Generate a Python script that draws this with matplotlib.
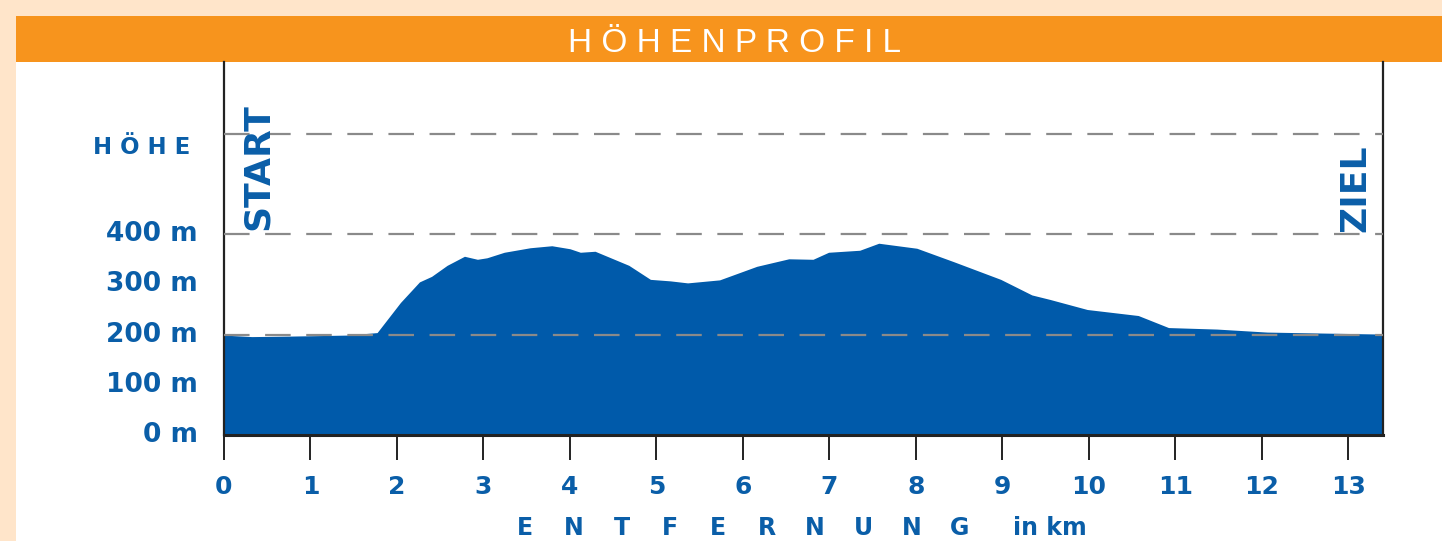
import matplotlib.pyplot as plt
from matplotlib.patches import Rectangle
from matplotlib.transforms import ScaledTranslation

# elevation profile
km = [0.0, 0.32, 0.76, 1.42, 1.77, 2.04, 2.26, 2.40, 2.58, 2.78, 2.93, 3.04, 3.24,
      3.54, 3.79, 4.00, 4.12, 4.29, 4.68, 4.93, 5.16, 5.36, 5.73, 6.16, 6.53, 6.81,
      6.99, 7.35, 7.57, 8.01, 8.44, 8.98, 9.34, 9.55, 9.98, 10.57, 10.92, 11.48,
      12.06, 13.40]
hoehe = [199, 196, 197, 199, 204, 264, 305, 316, 338, 356, 350, 353, 364,
         373, 377, 371, 364, 366, 338, 310, 307, 303, 309, 336, 351, 350,
         364, 368, 382, 372, 345, 310, 279, 270, 250, 238, 214, 211,
         205, 201]

xticks = list(range(0, 14))
yticks = [0, 100, 200, 300, 400]
ylabels = ["0 m", "100 m", "200 m", "300 m", "400 m"]
grid_levels = [200, 400, 600]

W, H = 1442, 541
blue = "#005AAA"
txtblue = "#0A5EA8"
orange = "#F7941D"
peach = "#FFE5CA"

fig = plt.figure(figsize=(W / 100, H / 100), dpi=100)
fig.patch.set_facecolor(peach)

# white panel + orange banner
fig.patches.append(Rectangle((16 / W, 0), 1 - 16 / W, 1 - 16 / H, transform=fig.transFigure,
                             facecolor="white", edgecolor="none", zorder=0))
fig.patches.append(Rectangle((16 / W, 1 - 62 / H), 1 - 16 / W, 46 / H, transform=fig.transFigure,
                             facecolor=orange, edgecolor="none", zorder=1))
fig.text(735 / W, 1 - 44 / H, " ".join("HÖHENPROFIL"), color="white", fontsize=24,
         family="Liberation Sans", ha="center", va="center")

ax = fig.add_axes([224 / W, 1 - 435 / H, (1383 - 224) / W, (435 - 62) / H])
ax.set_zorder(5)
ax.set_facecolor("none")
ax.fill_between(km, hoehe, 0, color=blue, lw=0, zorder=2)
for g in grid_levels:
    ax.axhline(g, color="#8a8a8a", lw=1.6, linestyle=(0, (11.5, 7)), zorder=3)

ax.set_xlim(0, 13.4)
ax.set_ylim(0, 743)

for s in ["left", "right"]:
    ax.spines[s].set_color("#222222")
    ax.spines[s].set_linewidth(1.6)
ax.spines["bottom"].set_color("#222222")
ax.spines["bottom"].set_linewidth(2.2)
ax.spines["top"].set_visible(False)

ax.set_xticks(xticks)
ax.set_xticklabels([str(t) for t in xticks], color=txtblue, fontsize=18, fontweight="bold")
ax.tick_params(axis="x", length=18, width=1.4, color="#222222", pad=11)
ax.set_yticks(yticks)
ax.set_yticklabels(ylabels, color=txtblue, fontsize=19, fontweight="bold")
ax.tick_params(axis="y", length=0, pad=19)
shift = ScaledTranslation(0, 3 / 100, fig.dpi_scale_trans)
for lab in ax.get_yticklabels():
    lab.set_transform(lab.get_transform() + shift)

ax.text(-0.0707, 0.772, "H Ö H E", transform=ax.transAxes, color=txtblue, fontsize=16.5,
        fontweight="bold", ha="center", va="center")

ax.text(0.39, 409, "START", rotation=90, color=txtblue, fontsize=26, fontweight="bold",
        ha="center", va="bottom", zorder=4)
ax.text(13.08, 405, "ZIEL", rotation=90, color=txtblue, fontsize=26, fontweight="bold",
        ha="center", va="bottom", zorder=4)

# spaced axis title under the ticks
for i, ch in enumerate("ENTFERNUNG"):
    fig.text((525 + i * 48.3) / W, 1 - 528 / H, ch, color=txtblue, fontsize=17,
             fontweight="bold", ha="center", va="center")
fig.text(1050 / W, 1 - 528 / H, "in km", color=txtblue, fontsize=17, fontweight="bold",
         ha="center", va="center")

fig.savefig("out.png", dpi=100, facecolor=fig.get_facecolor())
